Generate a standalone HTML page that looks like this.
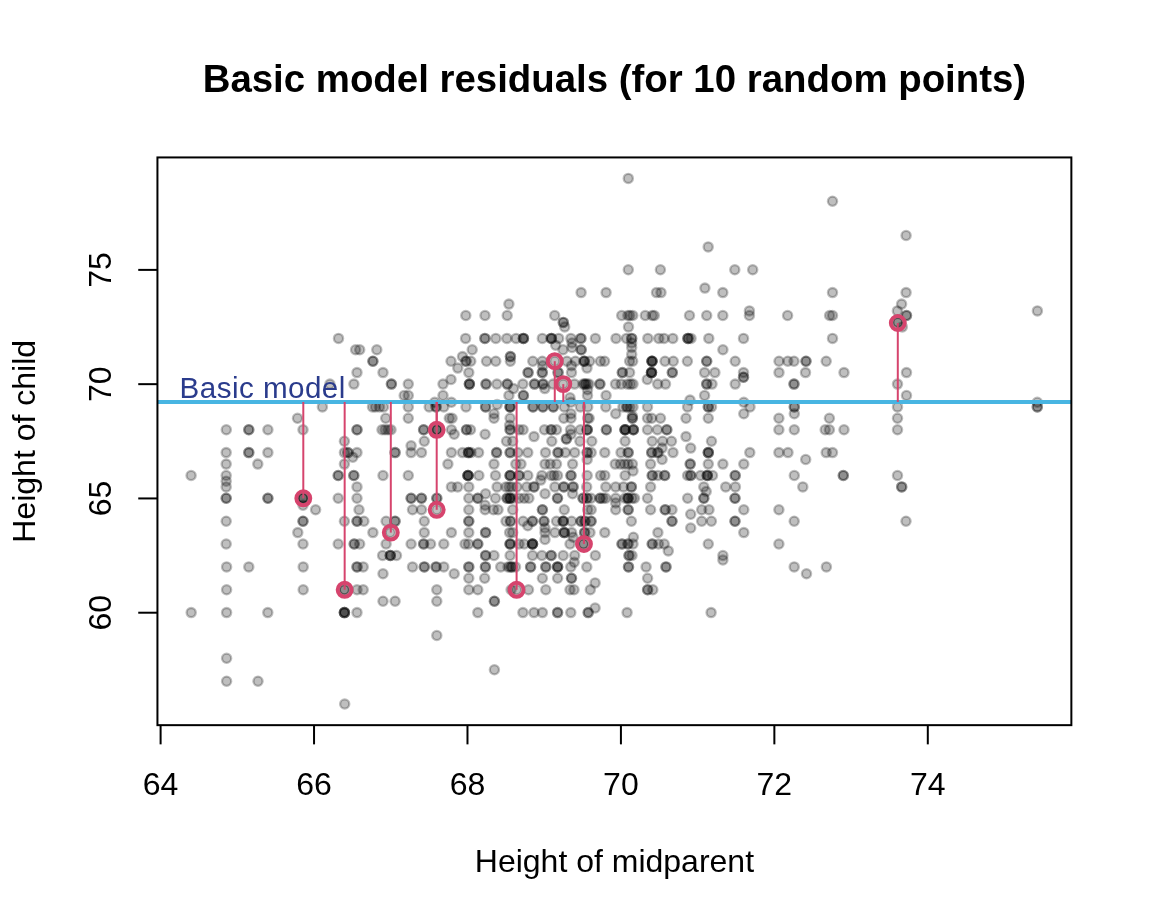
<!DOCTYPE html>
<html><head><meta charset="utf-8"><style>
html,body{margin:0;padding:0;background:#fff;}
svg{display:block;}
text{font-family:"Liberation Sans",sans-serif;}
svg{will-change:transform;}
</style></head><body>
<svg width="1152" height="921" viewBox="0 0 1152 921">
<rect width="1152" height="921" fill="#fff"/>
<text x="614.4" y="92" font-size="38.4" font-weight="bold" text-anchor="middle">Basic model residuals (for 10 random points)</text>
<g fill="rgba(0,0,0,0.25)" stroke="rgba(0,0,0,0.25)" stroke-width="2.3"><circle cx="508.9" cy="304.1" r="4.6"/><circle cx="465.8" cy="315.5" r="4.6"/><circle cx="485.0" cy="315.5" r="4.6"/><circle cx="507.2" cy="315.5" r="4.6"/><circle cx="628.3" cy="178.4" r="4.6"/><circle cx="628.3" cy="269.8" r="4.6"/><circle cx="660.4" cy="269.8" r="4.6"/><circle cx="581.1" cy="292.6" r="4.6"/><circle cx="606.1" cy="292.6" r="4.6"/><circle cx="656.5" cy="292.6" r="4.6"/><circle cx="661.0" cy="292.6" r="4.6"/><circle cx="554.7" cy="315.5" r="4.6"/><circle cx="621.7" cy="315.5" r="4.6"/><circle cx="627.9" cy="315.5" r="4.6"/><circle cx="630.0" cy="315.5" r="4.6"/><circle cx="632.8" cy="315.5" r="4.6"/><circle cx="645.3" cy="315.5" r="4.6"/><circle cx="652.2" cy="315.5" r="4.6"/><circle cx="654.3" cy="315.5" r="4.6"/><circle cx="689.5" cy="315.5" r="4.6"/><circle cx="563.3" cy="322.4" r="4.6"/><circle cx="563.3" cy="322.4" r="4.6"/><circle cx="832.5" cy="201.2" r="4.6"/><circle cx="906.1" cy="235.5" r="4.6"/><circle cx="708.2" cy="246.9" r="4.6"/><circle cx="734.8" cy="269.8" r="4.6"/><circle cx="752.7" cy="269.8" r="4.6"/><circle cx="704.9" cy="288.1" r="4.6"/><circle cx="722.8" cy="292.6" r="4.6"/><circle cx="832.5" cy="292.6" r="4.6"/><circle cx="906.1" cy="292.6" r="4.6"/><circle cx="901.6" cy="304.1" r="4.6"/><circle cx="1037.4" cy="310.9" r="4.6"/><circle cx="706.7" cy="315.5" r="4.6"/><circle cx="722.8" cy="315.5" r="4.6"/><circle cx="749.4" cy="310.9" r="4.6"/><circle cx="749.4" cy="315.5" r="4.6"/><circle cx="787.6" cy="315.5" r="4.6"/><circle cx="829.6" cy="315.5" r="4.6"/><circle cx="832.5" cy="315.5" r="4.6"/><circle cx="897.4" cy="310.9" r="4.6"/><circle cx="906.5" cy="315.5" r="4.6"/><circle cx="906.5" cy="315.5" r="4.6"/><circle cx="897.8" cy="322.4" r="4.6"/><circle cx="897.8" cy="322.4" r="4.6"/><circle cx="322.4" cy="406.9" r="4.6"/><circle cx="297.5" cy="418.3" r="4.6"/><circle cx="226.3" cy="429.8" r="4.6"/><circle cx="248.8" cy="429.8" r="4.6"/><circle cx="248.8" cy="429.8" r="4.6"/><circle cx="267.9" cy="429.8" r="4.6"/><circle cx="303.0" cy="429.8" r="4.6"/><circle cx="338.5" cy="338.4" r="4.6"/><circle cx="355.6" cy="349.8" r="4.6"/><circle cx="359.7" cy="349.8" r="4.6"/><circle cx="376.8" cy="349.8" r="4.6"/><circle cx="372.9" cy="361.2" r="4.6"/><circle cx="372.9" cy="361.2" r="4.6"/><circle cx="451.0" cy="361.2" r="4.6"/><circle cx="462.5" cy="356.6" r="4.6"/><circle cx="466.0" cy="361.2" r="4.6"/><circle cx="466.0" cy="361.2" r="4.6"/><circle cx="470.8" cy="361.2" r="4.6"/><circle cx="357.0" cy="372.6" r="4.6"/><circle cx="383.0" cy="372.6" r="4.6"/><circle cx="457.8" cy="368.1" r="4.6"/><circle cx="468.8" cy="372.6" r="4.6"/><circle cx="329.9" cy="384.1" r="4.6"/><circle cx="353.9" cy="384.1" r="4.6"/><circle cx="391.4" cy="384.1" r="4.6"/><circle cx="391.4" cy="384.1" r="4.6"/><circle cx="408.3" cy="384.1" r="4.6"/><circle cx="443.0" cy="384.1" r="4.6"/><circle cx="451.0" cy="379.5" r="4.6"/><circle cx="469.4" cy="384.1" r="4.6"/><circle cx="469.4" cy="384.1" r="4.6"/><circle cx="469.4" cy="384.1" r="4.6"/><circle cx="404.2" cy="395.5" r="4.6"/><circle cx="408.3" cy="395.5" r="4.6"/><circle cx="443.0" cy="395.5" r="4.6"/><circle cx="434.7" cy="402.3" r="4.6"/><circle cx="451.4" cy="402.3" r="4.6"/><circle cx="372.5" cy="406.9" r="4.6"/><circle cx="375.5" cy="406.9" r="4.6"/><circle cx="379.5" cy="406.9" r="4.6"/><circle cx="383.5" cy="406.9" r="4.6"/><circle cx="408.3" cy="406.9" r="4.6"/><circle cx="429.2" cy="406.9" r="4.6"/><circle cx="436.1" cy="406.9" r="4.6"/><circle cx="436.1" cy="406.9" r="4.6"/><circle cx="443.8" cy="406.9" r="4.6"/><circle cx="466.0" cy="406.9" r="4.6"/><circle cx="385.7" cy="418.3" r="4.6"/><circle cx="408.3" cy="418.3" r="4.6"/><circle cx="449.3" cy="418.3" r="4.6"/><circle cx="452.1" cy="418.3" r="4.6"/><circle cx="357.0" cy="429.8" r="4.6"/><circle cx="357.0" cy="429.8" r="4.6"/><circle cx="382.0" cy="429.8" r="4.6"/><circle cx="385.0" cy="429.8" r="4.6"/><circle cx="388.0" cy="429.8" r="4.6"/><circle cx="391.0" cy="429.8" r="4.6"/><circle cx="423.6" cy="429.8" r="4.6"/><circle cx="423.6" cy="429.8" r="4.6"/><circle cx="436.8" cy="429.8" r="4.6"/><circle cx="436.8" cy="429.8" r="4.6"/><circle cx="436.8" cy="429.8" r="4.6"/><circle cx="451.4" cy="429.8" r="4.6"/><circle cx="465.6" cy="338.4" r="4.6"/><circle cx="472.2" cy="349.8" r="4.6"/><circle cx="466.5" cy="429.8" r="4.6"/><circle cx="466.5" cy="429.8" r="4.6"/><circle cx="470.5" cy="429.8" r="4.6"/><circle cx="564.7" cy="326.9" r="4.6"/><circle cx="484.9" cy="338.4" r="4.6"/><circle cx="484.9" cy="338.4" r="4.6"/><circle cx="495.8" cy="338.4" r="4.6"/><circle cx="506.8" cy="338.4" r="4.6"/><circle cx="516.1" cy="338.4" r="4.6"/><circle cx="523.4" cy="338.4" r="4.6"/><circle cx="523.4" cy="338.4" r="4.6"/><circle cx="523.4" cy="338.4" r="4.6"/><circle cx="542.3" cy="338.4" r="4.6"/><circle cx="551.4" cy="338.4" r="4.6"/><circle cx="551.4" cy="338.4" r="4.6"/><circle cx="551.4" cy="338.4" r="4.6"/><circle cx="558.7" cy="338.4" r="4.6"/><circle cx="570.9" cy="338.4" r="4.6"/><circle cx="580.9" cy="338.4" r="4.6"/><circle cx="580.9" cy="338.4" r="4.6"/><circle cx="555.7" cy="345.2" r="4.6"/><circle cx="563.0" cy="349.8" r="4.6"/><circle cx="572.0" cy="342.9" r="4.6"/><circle cx="572.0" cy="347.5" r="4.6"/><circle cx="581.2" cy="349.8" r="4.6"/><circle cx="581.2" cy="349.8" r="4.6"/><circle cx="510.4" cy="356.6" r="4.6"/><circle cx="510.4" cy="356.6" r="4.6"/><circle cx="486.5" cy="361.2" r="4.6"/><circle cx="495.8" cy="361.2" r="4.6"/><circle cx="510.4" cy="361.2" r="4.6"/><circle cx="532.8" cy="361.2" r="4.6"/><circle cx="542.3" cy="361.2" r="4.6"/><circle cx="554.8" cy="361.2" r="4.6"/><circle cx="566.9" cy="361.2" r="4.6"/><circle cx="575.4" cy="361.2" r="4.6"/><circle cx="584.2" cy="361.2" r="4.6"/><circle cx="584.2" cy="361.2" r="4.6"/><circle cx="584.2" cy="361.2" r="4.6"/><circle cx="589.7" cy="361.2" r="4.6"/><circle cx="571.5" cy="365.8" r="4.6"/><circle cx="587.0" cy="368.1" r="4.6"/><circle cx="542.7" cy="365.8" r="4.6"/><circle cx="528.1" cy="372.6" r="4.6"/><circle cx="528.1" cy="372.6" r="4.6"/><circle cx="542.3" cy="372.6" r="4.6"/><circle cx="542.3" cy="372.6" r="4.6"/><circle cx="558.1" cy="372.6" r="4.6"/><circle cx="558.1" cy="372.6" r="4.6"/><circle cx="571.5" cy="372.6" r="4.6"/><circle cx="486.0" cy="384.1" r="4.6"/><circle cx="486.0" cy="384.1" r="4.6"/><circle cx="496.9" cy="384.1" r="4.6"/><circle cx="507.3" cy="384.1" r="4.6"/><circle cx="507.3" cy="384.1" r="4.6"/><circle cx="522.9" cy="384.1" r="4.6"/><circle cx="534.5" cy="384.1" r="4.6"/><circle cx="534.5" cy="384.1" r="4.6"/><circle cx="543.0" cy="384.1" r="4.6"/><circle cx="543.0" cy="384.1" r="4.6"/><circle cx="553.1" cy="384.1" r="4.6"/><circle cx="563.2" cy="384.1" r="4.6"/><circle cx="574.5" cy="384.1" r="4.6"/><circle cx="513.5" cy="388.6" r="4.6"/><circle cx="544.8" cy="388.6" r="4.6"/><circle cx="508.9" cy="395.5" r="4.6"/><circle cx="523.4" cy="395.5" r="4.6"/><circle cx="523.4" cy="395.5" r="4.6"/><circle cx="583.0" cy="384.1" r="4.6"/><circle cx="585.0" cy="384.1" r="4.6"/><circle cx="585.0" cy="384.1" r="4.6"/><circle cx="587.0" cy="384.1" r="4.6"/><circle cx="589.0" cy="384.1" r="4.6"/><circle cx="587.5" cy="389.8" r="4.6"/><circle cx="587.5" cy="395.5" r="4.6"/><circle cx="628.5" cy="326.9" r="4.6"/><circle cx="595.4" cy="338.4" r="4.6"/><circle cx="616.0" cy="338.4" r="4.6"/><circle cx="626.5" cy="338.4" r="4.6"/><circle cx="631.7" cy="338.4" r="4.6"/><circle cx="631.7" cy="338.4" r="4.6"/><circle cx="647.8" cy="338.4" r="4.6"/><circle cx="658.8" cy="338.4" r="4.6"/><circle cx="664.0" cy="338.4" r="4.6"/><circle cx="672.8" cy="338.4" r="4.6"/><circle cx="708.8" cy="338.4" r="4.6"/><circle cx="631.7" cy="342.9" r="4.6"/><circle cx="631.7" cy="347.5" r="4.6"/><circle cx="631.7" cy="354.4" r="4.6"/><circle cx="629.6" cy="361.2" r="4.6"/><circle cx="632.7" cy="361.2" r="4.6"/><circle cx="600.4" cy="361.2" r="4.6"/><circle cx="604.6" cy="361.2" r="4.6"/><circle cx="652.0" cy="361.2" r="4.6"/><circle cx="652.0" cy="361.2" r="4.6"/><circle cx="652.0" cy="361.2" r="4.6"/><circle cx="652.0" cy="361.2" r="4.6"/><circle cx="665.0" cy="361.2" r="4.6"/><circle cx="673.3" cy="361.2" r="4.6"/><circle cx="687.4" cy="361.2" r="4.6"/><circle cx="706.7" cy="361.2" r="4.6"/><circle cx="706.7" cy="361.2" r="4.6"/><circle cx="622.3" cy="372.6" r="4.6"/><circle cx="622.3" cy="372.6" r="4.6"/><circle cx="629.6" cy="372.6" r="4.6"/><circle cx="651.5" cy="372.6" r="4.6"/><circle cx="651.5" cy="372.6" r="4.6"/><circle cx="651.5" cy="372.6" r="4.6"/><circle cx="651.5" cy="372.6" r="4.6"/><circle cx="672.3" cy="372.6" r="4.6"/><circle cx="672.3" cy="372.6" r="4.6"/><circle cx="704.6" cy="372.6" r="4.6"/><circle cx="647.3" cy="379.5" r="4.6"/><circle cx="599.9" cy="384.1" r="4.6"/><circle cx="599.9" cy="384.1" r="4.6"/><circle cx="615.5" cy="384.1" r="4.6"/><circle cx="621.2" cy="384.1" r="4.6"/><circle cx="657.7" cy="384.1" r="4.6"/><circle cx="665.5" cy="384.1" r="4.6"/><circle cx="706.7" cy="384.1" r="4.6"/><circle cx="706.7" cy="384.1" r="4.6"/><circle cx="606.1" cy="395.5" r="4.6"/><circle cx="704.6" cy="395.5" r="4.6"/><circle cx="690.0" cy="400.1" r="4.6"/><circle cx="688.0" cy="338.4" r="4.6"/><circle cx="688.0" cy="338.4" r="4.6"/><circle cx="688.0" cy="338.4" r="4.6"/><circle cx="691.0" cy="338.4" r="4.6"/><circle cx="627.5" cy="384.1" r="4.6"/><circle cx="630.5" cy="384.1" r="4.6"/><circle cx="633.0" cy="384.1" r="4.6"/><circle cx="743.5" cy="338.4" r="4.6"/><circle cx="722.9" cy="349.8" r="4.6"/><circle cx="735.2" cy="361.2" r="4.6"/><circle cx="779.0" cy="361.2" r="4.6"/><circle cx="787.8" cy="361.2" r="4.6"/><circle cx="794.0" cy="361.2" r="4.6"/><circle cx="806.0" cy="361.2" r="4.6"/><circle cx="806.0" cy="361.2" r="4.6"/><circle cx="714.9" cy="372.6" r="4.6"/><circle cx="743.5" cy="372.6" r="4.6"/><circle cx="743.5" cy="377.2" r="4.6"/><circle cx="743.5" cy="377.2" r="4.6"/><circle cx="779.0" cy="372.6" r="4.6"/><circle cx="805.5" cy="372.6" r="4.6"/><circle cx="712.0" cy="384.1" r="4.6"/><circle cx="735.2" cy="384.1" r="4.6"/><circle cx="794.0" cy="384.1" r="4.6"/><circle cx="794.0" cy="384.1" r="4.6"/><circle cx="902.3" cy="326.9" r="4.6"/><circle cx="832.5" cy="338.4" r="4.6"/><circle cx="826.2" cy="361.2" r="4.6"/><circle cx="844.0" cy="372.6" r="4.6"/><circle cx="906.5" cy="372.6" r="4.6"/><circle cx="897.5" cy="384.1" r="4.6"/><circle cx="906.5" cy="395.5" r="4.6"/><circle cx="1037.3" cy="402.3" r="4.6"/><circle cx="1037.3" cy="406.9" r="4.6"/><circle cx="1037.3" cy="406.9" r="4.6"/><circle cx="897.5" cy="406.9" r="4.6"/><circle cx="829.4" cy="418.3" r="4.6"/><circle cx="897.5" cy="418.3" r="4.6"/><circle cx="825.2" cy="429.8" r="4.6"/><circle cx="829.4" cy="429.8" r="4.6"/><circle cx="844.0" cy="429.8" r="4.6"/><circle cx="897.5" cy="429.8" r="4.6"/><circle cx="826.2" cy="452.6" r="4.6"/><circle cx="832.5" cy="452.6" r="4.6"/><circle cx="843.3" cy="475.5" r="4.6"/><circle cx="843.3" cy="475.5" r="4.6"/><circle cx="897.5" cy="475.5" r="4.6"/><circle cx="901.7" cy="486.9" r="4.6"/><circle cx="901.7" cy="486.9" r="4.6"/><circle cx="570.0" cy="397.8" r="4.6"/><circle cx="485.6" cy="406.9" r="4.6"/><circle cx="485.6" cy="406.9" r="4.6"/><circle cx="497.1" cy="404.6" r="4.6"/><circle cx="510.1" cy="406.9" r="4.6"/><circle cx="510.1" cy="406.9" r="4.6"/><circle cx="510.1" cy="406.9" r="4.6"/><circle cx="533.0" cy="406.9" r="4.6"/><circle cx="533.0" cy="406.9" r="4.6"/><circle cx="542.9" cy="406.9" r="4.6"/><circle cx="542.9" cy="406.9" r="4.6"/><circle cx="553.3" cy="406.9" r="4.6"/><circle cx="553.3" cy="406.9" r="4.6"/><circle cx="564.3" cy="406.9" r="4.6"/><circle cx="571.0" cy="402.3" r="4.6"/><circle cx="580.4" cy="406.9" r="4.6"/><circle cx="587.7" cy="406.9" r="4.6"/><circle cx="494.0" cy="413.8" r="4.6"/><circle cx="494.0" cy="418.3" r="4.6"/><circle cx="510.1" cy="418.3" r="4.6"/><circle cx="563.8" cy="418.3" r="4.6"/><circle cx="571.0" cy="413.8" r="4.6"/><circle cx="571.0" cy="418.3" r="4.6"/><circle cx="587.7" cy="418.3" r="4.6"/><circle cx="485.1" cy="434.3" r="4.6"/><circle cx="509.6" cy="425.2" r="4.6"/><circle cx="510.1" cy="429.8" r="4.6"/><circle cx="510.1" cy="429.8" r="4.6"/><circle cx="519.0" cy="429.8" r="4.6"/><circle cx="523.1" cy="429.8" r="4.6"/><circle cx="544.5" cy="429.8" r="4.6"/><circle cx="551.2" cy="429.8" r="4.6"/><circle cx="551.2" cy="429.8" r="4.6"/><circle cx="556.5" cy="429.8" r="4.6"/><circle cx="570.5" cy="429.8" r="4.6"/><circle cx="571.0" cy="434.3" r="4.6"/><circle cx="580.4" cy="429.8" r="4.6"/><circle cx="587.2" cy="429.8" r="4.6"/><circle cx="587.2" cy="429.8" r="4.6"/><circle cx="587.2" cy="429.8" r="4.6"/><circle cx="534.0" cy="436.6" r="4.6"/><circle cx="506.5" cy="441.2" r="4.6"/><circle cx="512.7" cy="441.2" r="4.6"/><circle cx="551.8" cy="441.2" r="4.6"/><circle cx="566.4" cy="438.9" r="4.6"/><circle cx="566.4" cy="438.9" r="4.6"/><circle cx="579.9" cy="441.2" r="4.6"/><circle cx="478.6" cy="452.6" r="4.6"/><circle cx="496.6" cy="452.6" r="4.6"/><circle cx="496.6" cy="452.6" r="4.6"/><circle cx="510.1" cy="452.6" r="4.6"/><circle cx="510.1" cy="452.6" r="4.6"/><circle cx="517.9" cy="452.6" r="4.6"/><circle cx="527.8" cy="452.6" r="4.6"/><circle cx="545.5" cy="452.6" r="4.6"/><circle cx="558.0" cy="452.6" r="4.6"/><circle cx="558.0" cy="452.6" r="4.6"/><circle cx="565.3" cy="452.6" r="4.6"/><circle cx="574.7" cy="452.6" r="4.6"/><circle cx="587.2" cy="452.6" r="4.6"/><circle cx="587.2" cy="452.6" r="4.6"/><circle cx="494.0" cy="464.1" r="4.6"/><circle cx="515.8" cy="464.1" r="4.6"/><circle cx="521.0" cy="464.1" r="4.6"/><circle cx="545.0" cy="464.1" r="4.6"/><circle cx="550.2" cy="464.1" r="4.6"/><circle cx="556.5" cy="464.1" r="4.6"/><circle cx="572.6" cy="464.1" r="4.6"/><circle cx="587.2" cy="459.5" r="4.6"/><circle cx="478.9" cy="475.5" r="4.6"/><circle cx="495.5" cy="475.5" r="4.6"/><circle cx="510.1" cy="475.5" r="4.6"/><circle cx="510.1" cy="475.5" r="4.6"/><circle cx="510.1" cy="475.5" r="4.6"/><circle cx="519.0" cy="475.5" r="4.6"/><circle cx="519.0" cy="475.5" r="4.6"/><circle cx="527.8" cy="475.5" r="4.6"/><circle cx="541.9" cy="475.5" r="4.6"/><circle cx="551.2" cy="475.5" r="4.6"/><circle cx="557.5" cy="475.5" r="4.6"/><circle cx="571.0" cy="475.5" r="4.6"/><circle cx="571.0" cy="475.5" r="4.6"/><circle cx="587.2" cy="475.5" r="4.6"/><circle cx="554.0" cy="475.5" r="4.6"/><circle cx="687.6" cy="406.9" r="4.6"/><circle cx="605.8" cy="406.9" r="4.6"/><circle cx="647.5" cy="406.9" r="4.6"/><circle cx="615.7" cy="413.8" r="4.6"/><circle cx="589.2" cy="418.3" r="4.6"/><circle cx="632.4" cy="416.1" r="4.6"/><circle cx="632.4" cy="418.3" r="4.6"/><circle cx="632.4" cy="418.3" r="4.6"/><circle cx="647.5" cy="418.3" r="4.6"/><circle cx="651.7" cy="418.3" r="4.6"/><circle cx="660.5" cy="418.3" r="4.6"/><circle cx="686.0" cy="418.3" r="4.6"/><circle cx="606.4" cy="429.8" r="4.6"/><circle cx="606.4" cy="429.8" r="4.6"/><circle cx="625.1" cy="429.8" r="4.6"/><circle cx="625.1" cy="429.8" r="4.6"/><circle cx="625.1" cy="429.8" r="4.6"/><circle cx="625.1" cy="429.8" r="4.6"/><circle cx="633.4" cy="429.8" r="4.6"/><circle cx="633.4" cy="429.8" r="4.6"/><circle cx="633.4" cy="429.8" r="4.6"/><circle cx="647.5" cy="429.8" r="4.6"/><circle cx="657.4" cy="429.8" r="4.6"/><circle cx="666.8" cy="429.8" r="4.6"/><circle cx="666.8" cy="429.8" r="4.6"/><circle cx="686.0" cy="436.6" r="4.6"/><circle cx="591.8" cy="441.2" r="4.6"/><circle cx="625.1" cy="441.2" r="4.6"/><circle cx="652.2" cy="441.2" r="4.6"/><circle cx="662.6" cy="441.2" r="4.6"/><circle cx="671.5" cy="441.2" r="4.6"/><circle cx="662.1" cy="448.1" r="4.6"/><circle cx="690.7" cy="448.1" r="4.6"/><circle cx="591.2" cy="452.6" r="4.6"/><circle cx="604.8" cy="452.6" r="4.6"/><circle cx="621.0" cy="452.6" r="4.6"/><circle cx="628.2" cy="452.6" r="4.6"/><circle cx="628.2" cy="452.6" r="4.6"/><circle cx="651.7" cy="452.6" r="4.6"/><circle cx="651.7" cy="452.6" r="4.6"/><circle cx="657.9" cy="452.6" r="4.6"/><circle cx="657.9" cy="452.6" r="4.6"/><circle cx="673.0" cy="452.6" r="4.6"/><circle cx="615.2" cy="464.1" r="4.6"/><circle cx="632.4" cy="464.1" r="4.6"/><circle cx="633.0" cy="470.9" r="4.6"/><circle cx="650.6" cy="464.1" r="4.6"/><circle cx="662.1" cy="459.5" r="4.6"/><circle cx="690.2" cy="464.1" r="4.6"/><circle cx="690.2" cy="464.1" r="4.6"/><circle cx="600.6" cy="475.5" r="4.6"/><circle cx="604.8" cy="475.5" r="4.6"/><circle cx="625.1" cy="475.5" r="4.6"/><circle cx="652.2" cy="475.5" r="4.6"/><circle cx="652.2" cy="475.5" r="4.6"/><circle cx="657.9" cy="475.5" r="4.6"/><circle cx="664.7" cy="475.5" r="4.6"/><circle cx="664.7" cy="475.5" r="4.6"/><circle cx="687.6" cy="475.5" r="4.6"/><circle cx="690.7" cy="475.5" r="4.6"/><circle cx="690.7" cy="475.5" r="4.6"/><circle cx="700.6" cy="475.5" r="4.6"/><circle cx="623.0" cy="406.9" r="4.6"/><circle cx="627.0" cy="406.9" r="4.6"/><circle cx="627.0" cy="406.9" r="4.6"/><circle cx="630.0" cy="406.9" r="4.6"/><circle cx="633.0" cy="406.9" r="4.6"/><circle cx="620.5" cy="464.1" r="4.6"/><circle cx="624.6" cy="464.1" r="4.6"/><circle cx="628.0" cy="464.1" r="4.6"/><circle cx="743.8" cy="402.3" r="4.6"/><circle cx="708.3" cy="406.9" r="4.6"/><circle cx="708.3" cy="406.9" r="4.6"/><circle cx="711.5" cy="406.9" r="4.6"/><circle cx="750.0" cy="406.9" r="4.6"/><circle cx="743.8" cy="413.8" r="4.6"/><circle cx="794.3" cy="406.9" r="4.6"/><circle cx="794.3" cy="406.9" r="4.6"/><circle cx="794.3" cy="413.8" r="4.6"/><circle cx="708.3" cy="418.3" r="4.6"/><circle cx="778.9" cy="418.3" r="4.6"/><circle cx="778.9" cy="429.8" r="4.6"/><circle cx="794.3" cy="429.8" r="4.6"/><circle cx="711.5" cy="441.2" r="4.6"/><circle cx="708.3" cy="452.6" r="4.6"/><circle cx="708.3" cy="452.6" r="4.6"/><circle cx="708.3" cy="452.6" r="4.6"/><circle cx="749.8" cy="452.6" r="4.6"/><circle cx="778.9" cy="452.6" r="4.6"/><circle cx="788.0" cy="452.6" r="4.6"/><circle cx="805.7" cy="459.5" r="4.6"/><circle cx="708.3" cy="464.1" r="4.6"/><circle cx="722.9" cy="464.1" r="4.6"/><circle cx="743.8" cy="464.1" r="4.6"/><circle cx="707.3" cy="475.5" r="4.6"/><circle cx="707.3" cy="475.5" r="4.6"/><circle cx="707.3" cy="475.5" r="4.6"/><circle cx="712.5" cy="475.5" r="4.6"/><circle cx="735.2" cy="475.5" r="4.6"/><circle cx="735.2" cy="475.5" r="4.6"/><circle cx="794.3" cy="475.5" r="4.6"/><circle cx="344.4" cy="441.2" r="4.6"/><circle cx="424.3" cy="441.2" r="4.6"/><circle cx="454.2" cy="434.3" r="4.6"/><circle cx="344.4" cy="452.6" r="4.6"/><circle cx="347.9" cy="452.6" r="4.6"/><circle cx="347.9" cy="452.6" r="4.6"/><circle cx="357.0" cy="452.6" r="4.6"/><circle cx="395.1" cy="452.6" r="4.6"/><circle cx="395.1" cy="452.6" r="4.6"/><circle cx="411.1" cy="445.8" r="4.6"/><circle cx="411.1" cy="452.6" r="4.6"/><circle cx="421.5" cy="452.6" r="4.6"/><circle cx="451.4" cy="452.6" r="4.6"/><circle cx="462.5" cy="452.6" r="4.6"/><circle cx="352.8" cy="457.2" r="4.6"/><circle cx="344.4" cy="464.1" r="4.6"/><circle cx="447.9" cy="464.1" r="4.6"/><circle cx="338.2" cy="475.5" r="4.6"/><circle cx="338.2" cy="475.5" r="4.6"/><circle cx="353.8" cy="475.5" r="4.6"/><circle cx="353.8" cy="475.5" r="4.6"/><circle cx="383.0" cy="475.5" r="4.6"/><circle cx="408.3" cy="475.5" r="4.6"/><circle cx="357.0" cy="486.9" r="4.6"/><circle cx="451.4" cy="486.9" r="4.6"/><circle cx="457.6" cy="486.9" r="4.6"/><circle cx="468.8" cy="486.9" r="4.6"/><circle cx="338.2" cy="498.3" r="4.6"/><circle cx="357.0" cy="498.3" r="4.6"/><circle cx="411.1" cy="498.3" r="4.6"/><circle cx="411.1" cy="498.3" r="4.6"/><circle cx="421.5" cy="498.3" r="4.6"/><circle cx="421.5" cy="498.3" r="4.6"/><circle cx="436.8" cy="498.3" r="4.6"/><circle cx="436.8" cy="498.3" r="4.6"/><circle cx="468.8" cy="498.3" r="4.6"/><circle cx="477.8" cy="498.3" r="4.6"/><circle cx="477.8" cy="498.3" r="4.6"/><circle cx="359.0" cy="509.8" r="4.6"/><circle cx="412.5" cy="509.8" r="4.6"/><circle cx="421.5" cy="509.8" r="4.6"/><circle cx="436.8" cy="509.8" r="4.6"/><circle cx="468.8" cy="509.8" r="4.6"/><circle cx="344.4" cy="521.2" r="4.6"/><circle cx="357.0" cy="521.2" r="4.6"/><circle cx="357.0" cy="521.2" r="4.6"/><circle cx="363.9" cy="521.2" r="4.6"/><circle cx="386.1" cy="521.2" r="4.6"/><circle cx="395.1" cy="521.2" r="4.6"/><circle cx="395.1" cy="521.2" r="4.6"/><circle cx="424.3" cy="521.2" r="4.6"/><circle cx="468.8" cy="521.2" r="4.6"/><circle cx="468.8" cy="521.2" r="4.6"/><circle cx="372.9" cy="532.6" r="4.6"/><circle cx="390.3" cy="532.6" r="4.6"/><circle cx="424.3" cy="532.6" r="4.6"/><circle cx="451.4" cy="532.6" r="4.6"/><circle cx="468.8" cy="532.6" r="4.6"/><circle cx="338.2" cy="544.0" r="4.6"/><circle cx="354.2" cy="544.0" r="4.6"/><circle cx="354.2" cy="544.0" r="4.6"/><circle cx="359.7" cy="544.0" r="4.6"/><circle cx="386.1" cy="544.0" r="4.6"/><circle cx="411.1" cy="544.0" r="4.6"/><circle cx="423.6" cy="544.0" r="4.6"/><circle cx="423.6" cy="544.0" r="4.6"/><circle cx="430.6" cy="544.0" r="4.6"/><circle cx="443.8" cy="544.0" r="4.6"/><circle cx="477.8" cy="544.0" r="4.6"/><circle cx="477.8" cy="544.0" r="4.6"/><circle cx="465.0" cy="544.0" r="4.6"/><circle cx="468.5" cy="544.0" r="4.6"/><circle cx="468.0" cy="475.5" r="4.6"/><circle cx="468.0" cy="475.5" r="4.6"/><circle cx="468.0" cy="475.5" r="4.6"/><circle cx="468.0" cy="475.5" r="4.6"/><circle cx="468.5" cy="452.6" r="4.6"/><circle cx="468.5" cy="452.6" r="4.6"/><circle cx="468.5" cy="452.6" r="4.6"/><circle cx="471.0" cy="452.6" r="4.6"/><circle cx="226.2" cy="452.6" r="4.6"/><circle cx="248.8" cy="452.6" r="4.6"/><circle cx="248.8" cy="452.6" r="4.6"/><circle cx="267.9" cy="452.6" r="4.6"/><circle cx="226.2" cy="464.1" r="4.6"/><circle cx="257.8" cy="464.1" r="4.6"/><circle cx="191.1" cy="475.5" r="4.6"/><circle cx="226.2" cy="475.5" r="4.6"/><circle cx="226.2" cy="486.9" r="4.6"/><circle cx="226.2" cy="498.3" r="4.6"/><circle cx="226.2" cy="498.3" r="4.6"/><circle cx="267.9" cy="498.3" r="4.6"/><circle cx="267.9" cy="498.3" r="4.6"/><circle cx="303.0" cy="498.3" r="4.6"/><circle cx="303.0" cy="498.3" r="4.6"/><circle cx="303.0" cy="498.3" r="4.6"/><circle cx="303.0" cy="505.2" r="4.6"/><circle cx="315.6" cy="509.8" r="4.6"/><circle cx="226.2" cy="521.2" r="4.6"/><circle cx="303.0" cy="521.2" r="4.6"/><circle cx="303.0" cy="521.2" r="4.6"/><circle cx="297.8" cy="532.6" r="4.6"/><circle cx="226.2" cy="544.0" r="4.6"/><circle cx="303.0" cy="544.0" r="4.6"/><circle cx="226.2" cy="481.2" r="4.6"/><circle cx="497.1" cy="486.9" r="4.6"/><circle cx="511.7" cy="486.9" r="4.6"/><circle cx="516.9" cy="486.9" r="4.6"/><circle cx="526.8" cy="486.9" r="4.6"/><circle cx="534.0" cy="486.9" r="4.6"/><circle cx="534.0" cy="486.9" r="4.6"/><circle cx="540.8" cy="480.1" r="4.6"/><circle cx="554.9" cy="486.9" r="4.6"/><circle cx="563.8" cy="486.9" r="4.6"/><circle cx="563.8" cy="486.9" r="4.6"/><circle cx="573.1" cy="486.9" r="4.6"/><circle cx="573.1" cy="486.9" r="4.6"/><circle cx="586.7" cy="486.9" r="4.6"/><circle cx="485.6" cy="493.8" r="4.6"/><circle cx="545.0" cy="493.8" r="4.6"/><circle cx="572.6" cy="493.8" r="4.6"/><circle cx="495.5" cy="498.3" r="4.6"/><circle cx="519.0" cy="498.3" r="4.6"/><circle cx="524.2" cy="498.3" r="4.6"/><circle cx="528.9" cy="498.3" r="4.6"/><circle cx="557.5" cy="498.3" r="4.6"/><circle cx="557.5" cy="498.3" r="4.6"/><circle cx="485.1" cy="505.2" r="4.6"/><circle cx="485.1" cy="509.8" r="4.6"/><circle cx="512.7" cy="509.8" r="4.6"/><circle cx="542.4" cy="509.8" r="4.6"/><circle cx="542.4" cy="509.8" r="4.6"/><circle cx="564.3" cy="509.8" r="4.6"/><circle cx="587.7" cy="509.8" r="4.6"/><circle cx="523.1" cy="521.2" r="4.6"/><circle cx="532.5" cy="521.2" r="4.6"/><circle cx="532.5" cy="521.2" r="4.6"/><circle cx="544.0" cy="521.2" r="4.6"/><circle cx="544.0" cy="521.2" r="4.6"/><circle cx="556.5" cy="521.2" r="4.6"/><circle cx="563.2" cy="521.2" r="4.6"/><circle cx="563.2" cy="521.2" r="4.6"/><circle cx="563.2" cy="521.2" r="4.6"/><circle cx="571.6" cy="521.2" r="4.6"/><circle cx="527.8" cy="525.8" r="4.6"/><circle cx="485.6" cy="532.6" r="4.6"/><circle cx="485.6" cy="532.6" r="4.6"/><circle cx="509.6" cy="532.6" r="4.6"/><circle cx="512.7" cy="532.6" r="4.6"/><circle cx="545.0" cy="528.0" r="4.6"/><circle cx="545.0" cy="532.6" r="4.6"/><circle cx="545.0" cy="539.5" r="4.6"/><circle cx="554.9" cy="532.6" r="4.6"/><circle cx="564.3" cy="532.6" r="4.6"/><circle cx="564.3" cy="532.6" r="4.6"/><circle cx="564.3" cy="532.6" r="4.6"/><circle cx="571.6" cy="532.6" r="4.6"/><circle cx="584.6" cy="532.6" r="4.6"/><circle cx="584.6" cy="532.6" r="4.6"/><circle cx="510.1" cy="544.0" r="4.6"/><circle cx="510.1" cy="544.0" r="4.6"/><circle cx="510.1" cy="544.0" r="4.6"/><circle cx="519.0" cy="544.0" r="4.6"/><circle cx="524.2" cy="544.0" r="4.6"/><circle cx="532.5" cy="544.0" r="4.6"/><circle cx="532.5" cy="544.0" r="4.6"/><circle cx="532.5" cy="544.0" r="4.6"/><circle cx="532.5" cy="544.0" r="4.6"/><circle cx="570.0" cy="544.0" r="4.6"/><circle cx="573.1" cy="537.2" r="4.6"/><circle cx="583.5" cy="544.0" r="4.6"/><circle cx="583.5" cy="544.0" r="4.6"/><circle cx="485.6" cy="555.5" r="4.6"/><circle cx="485.6" cy="555.5" r="4.6"/><circle cx="494.0" cy="555.5" r="4.6"/><circle cx="510.1" cy="555.5" r="4.6"/><circle cx="532.5" cy="555.5" r="4.6"/><circle cx="541.9" cy="555.5" r="4.6"/><circle cx="551.2" cy="555.5" r="4.6"/><circle cx="551.2" cy="555.5" r="4.6"/><circle cx="563.2" cy="555.5" r="4.6"/><circle cx="574.7" cy="555.5" r="4.6"/><circle cx="574.2" cy="562.3" r="4.6"/><circle cx="583.0" cy="498.3" r="4.6"/><circle cx="583.0" cy="498.3" r="4.6"/><circle cx="587.0" cy="498.3" r="4.6"/><circle cx="587.0" cy="498.3" r="4.6"/><circle cx="591.0" cy="498.3" r="4.6"/><circle cx="581.0" cy="521.2" r="4.6"/><circle cx="581.0" cy="521.2" r="4.6"/><circle cx="585.0" cy="521.2" r="4.6"/><circle cx="585.0" cy="521.2" r="4.6"/><circle cx="591.0" cy="521.2" r="4.6"/><circle cx="590.0" cy="532.6" r="4.6"/><circle cx="507.0" cy="498.3" r="4.6"/><circle cx="507.0" cy="498.3" r="4.6"/><circle cx="510.0" cy="498.3" r="4.6"/><circle cx="510.0" cy="498.3" r="4.6"/><circle cx="510.0" cy="498.3" r="4.6"/><circle cx="513.0" cy="498.3" r="4.6"/><circle cx="506.0" cy="486.9" r="4.6"/><circle cx="509.0" cy="486.9" r="4.6"/><circle cx="493.5" cy="509.8" r="4.6"/><circle cx="498.0" cy="509.8" r="4.6"/><circle cx="506.0" cy="521.2" r="4.6"/><circle cx="510.5" cy="521.2" r="4.6"/><circle cx="510.5" cy="521.2" r="4.6"/><circle cx="605.8" cy="486.9" r="4.6"/><circle cx="615.7" cy="486.9" r="4.6"/><circle cx="623.5" cy="486.9" r="4.6"/><circle cx="631.4" cy="486.9" r="4.6"/><circle cx="631.4" cy="486.9" r="4.6"/><circle cx="650.6" cy="486.9" r="4.6"/><circle cx="703.8" cy="486.9" r="4.6"/><circle cx="600.1" cy="498.3" r="4.6"/><circle cx="600.1" cy="498.3" r="4.6"/><circle cx="605.8" cy="498.3" r="4.6"/><circle cx="615.7" cy="498.3" r="4.6"/><circle cx="615.7" cy="502.9" r="4.6"/><circle cx="634.5" cy="498.3" r="4.6"/><circle cx="647.5" cy="498.3" r="4.6"/><circle cx="687.6" cy="498.3" r="4.6"/><circle cx="703.8" cy="498.3" r="4.6"/><circle cx="703.8" cy="498.3" r="4.6"/><circle cx="591.2" cy="509.8" r="4.6"/><circle cx="615.7" cy="509.8" r="4.6"/><circle cx="628.2" cy="509.8" r="4.6"/><circle cx="628.2" cy="509.8" r="4.6"/><circle cx="650.6" cy="509.8" r="4.6"/><circle cx="665.2" cy="509.8" r="4.6"/><circle cx="665.2" cy="509.8" r="4.6"/><circle cx="672.0" cy="509.8" r="4.6"/><circle cx="701.7" cy="509.8" r="4.6"/><circle cx="690.7" cy="514.3" r="4.6"/><circle cx="591.2" cy="521.2" r="4.6"/><circle cx="631.4" cy="521.2" r="4.6"/><circle cx="672.0" cy="521.2" r="4.6"/><circle cx="672.0" cy="521.2" r="4.6"/><circle cx="701.7" cy="521.2" r="4.6"/><circle cx="690.7" cy="528.0" r="4.6"/><circle cx="604.8" cy="532.6" r="4.6"/><circle cx="657.9" cy="532.6" r="4.6"/><circle cx="633.4" cy="537.2" r="4.6"/><circle cx="652.2" cy="544.0" r="4.6"/><circle cx="652.2" cy="544.0" r="4.6"/><circle cx="664.2" cy="544.0" r="4.6"/><circle cx="668.3" cy="550.9" r="4.6"/><circle cx="595.4" cy="555.5" r="4.6"/><circle cx="603.0" cy="498.3" r="4.6"/><circle cx="622.0" cy="544.0" r="4.6"/><circle cx="622.0" cy="544.0" r="4.6"/><circle cx="628.0" cy="544.0" r="4.6"/><circle cx="628.0" cy="544.0" r="4.6"/><circle cx="633.0" cy="544.0" r="4.6"/><circle cx="658.5" cy="544.0" r="4.6"/><circle cx="625.0" cy="498.3" r="4.6"/><circle cx="628.0" cy="498.3" r="4.6"/><circle cx="628.0" cy="498.3" r="4.6"/><circle cx="628.0" cy="498.3" r="4.6"/><circle cx="632.0" cy="498.3" r="4.6"/><circle cx="629.0" cy="555.5" r="4.6"/><circle cx="629.0" cy="555.5" r="4.6"/><circle cx="632.0" cy="555.5" r="4.6"/><circle cx="725.7" cy="486.9" r="4.6"/><circle cx="735.4" cy="486.9" r="4.6"/><circle cx="802.8" cy="486.9" r="4.6"/><circle cx="706.2" cy="491.5" r="4.6"/><circle cx="735.0" cy="498.3" r="4.6"/><circle cx="735.0" cy="498.3" r="4.6"/><circle cx="709.0" cy="509.8" r="4.6"/><circle cx="743.8" cy="509.8" r="4.6"/><circle cx="778.9" cy="509.8" r="4.6"/><circle cx="711.4" cy="521.2" r="4.6"/><circle cx="735.0" cy="521.2" r="4.6"/><circle cx="735.0" cy="521.2" r="4.6"/><circle cx="794.2" cy="521.2" r="4.6"/><circle cx="743.8" cy="532.6" r="4.6"/><circle cx="708.3" cy="544.0" r="4.6"/><circle cx="778.9" cy="544.0" r="4.6"/><circle cx="722.9" cy="555.5" r="4.6"/><circle cx="722.9" cy="560.0" r="4.6"/><circle cx="794.2" cy="566.9" r="4.6"/><circle cx="826.4" cy="566.9" r="4.6"/><circle cx="806.5" cy="573.8" r="4.6"/><circle cx="906.0" cy="521.2" r="4.6"/><circle cx="226.6" cy="566.9" r="4.6"/><circle cx="248.8" cy="566.9" r="4.6"/><circle cx="303.2" cy="566.9" r="4.6"/><circle cx="226.6" cy="589.8" r="4.6"/><circle cx="303.2" cy="589.8" r="4.6"/><circle cx="191.2" cy="612.6" r="4.6"/><circle cx="226.6" cy="612.6" r="4.6"/><circle cx="267.8" cy="612.6" r="4.6"/><circle cx="226.6" cy="658.3" r="4.6"/><circle cx="226.6" cy="681.2" r="4.6"/><circle cx="258.0" cy="681.2" r="4.6"/><circle cx="382.6" cy="555.5" r="4.6"/><circle cx="390.3" cy="555.5" r="4.6"/><circle cx="390.3" cy="555.5" r="4.6"/><circle cx="390.3" cy="555.5" r="4.6"/><circle cx="396.5" cy="555.5" r="4.6"/><circle cx="357.0" cy="566.9" r="4.6"/><circle cx="357.0" cy="566.9" r="4.6"/><circle cx="363.2" cy="566.9" r="4.6"/><circle cx="412.5" cy="566.9" r="4.6"/><circle cx="424.3" cy="566.9" r="4.6"/><circle cx="424.3" cy="566.9" r="4.6"/><circle cx="436.1" cy="566.9" r="4.6"/><circle cx="436.1" cy="566.9" r="4.6"/><circle cx="443.8" cy="566.9" r="4.6"/><circle cx="468.8" cy="566.9" r="4.6"/><circle cx="468.8" cy="566.9" r="4.6"/><circle cx="383.0" cy="573.8" r="4.6"/><circle cx="454.2" cy="573.8" r="4.6"/><circle cx="468.8" cy="578.3" r="4.6"/><circle cx="344.4" cy="589.8" r="4.6"/><circle cx="344.4" cy="589.8" r="4.6"/><circle cx="357.0" cy="589.8" r="4.6"/><circle cx="363.2" cy="589.8" r="4.6"/><circle cx="436.8" cy="589.8" r="4.6"/><circle cx="468.8" cy="589.8" r="4.6"/><circle cx="477.8" cy="589.8" r="4.6"/><circle cx="383.0" cy="601.2" r="4.6"/><circle cx="395.1" cy="601.2" r="4.6"/><circle cx="436.8" cy="601.2" r="4.6"/><circle cx="344.4" cy="612.6" r="4.6"/><circle cx="344.4" cy="612.6" r="4.6"/><circle cx="344.4" cy="612.6" r="4.6"/><circle cx="344.4" cy="612.6" r="4.6"/><circle cx="357.0" cy="612.6" r="4.6"/><circle cx="477.8" cy="612.6" r="4.6"/><circle cx="436.8" cy="635.5" r="4.6"/><circle cx="344.7" cy="704.0" r="4.6"/><circle cx="485.4" cy="566.9" r="4.6"/><circle cx="485.4" cy="566.9" r="4.6"/><circle cx="500.7" cy="566.9" r="4.6"/><circle cx="508.0" cy="566.9" r="4.6"/><circle cx="511.8" cy="566.9" r="4.6"/><circle cx="511.8" cy="566.9" r="4.6"/><circle cx="515.5" cy="566.9" r="4.6"/><circle cx="530.6" cy="566.9" r="4.6"/><circle cx="530.6" cy="566.9" r="4.6"/><circle cx="545.8" cy="566.9" r="4.6"/><circle cx="545.8" cy="566.9" r="4.6"/><circle cx="557.6" cy="566.9" r="4.6"/><circle cx="557.6" cy="566.9" r="4.6"/><circle cx="557.6" cy="566.9" r="4.6"/><circle cx="570.8" cy="566.9" r="4.6"/><circle cx="586.8" cy="566.9" r="4.6"/><circle cx="628.5" cy="566.9" r="4.6"/><circle cx="628.5" cy="566.9" r="4.6"/><circle cx="484.7" cy="578.3" r="4.6"/><circle cx="542.4" cy="578.3" r="4.6"/><circle cx="557.6" cy="578.3" r="4.6"/><circle cx="571.5" cy="578.3" r="4.6"/><circle cx="571.5" cy="578.3" r="4.6"/><circle cx="511.1" cy="589.8" r="4.6"/><circle cx="528.5" cy="589.8" r="4.6"/><circle cx="545.8" cy="589.8" r="4.6"/><circle cx="590.3" cy="589.8" r="4.6"/><circle cx="595.1" cy="582.9" r="4.6"/><circle cx="494.4" cy="601.2" r="4.6"/><circle cx="494.4" cy="601.2" r="4.6"/><circle cx="522.9" cy="612.6" r="4.6"/><circle cx="534.0" cy="612.6" r="4.6"/><circle cx="542.4" cy="612.6" r="4.6"/><circle cx="557.6" cy="612.6" r="4.6"/><circle cx="557.6" cy="612.6" r="4.6"/><circle cx="570.8" cy="612.6" r="4.6"/><circle cx="588.2" cy="612.6" r="4.6"/><circle cx="588.2" cy="612.6" r="4.6"/><circle cx="595.1" cy="608.0" r="4.6"/><circle cx="627.1" cy="612.6" r="4.6"/><circle cx="494.4" cy="669.8" r="4.6"/><circle cx="510.0" cy="566.9" r="4.6"/><circle cx="516.6" cy="589.8" r="4.6"/><circle cx="570.0" cy="589.8" r="4.6"/><circle cx="574.0" cy="589.8" r="4.6"/><circle cx="646.1" cy="566.9" r="4.6"/><circle cx="666.0" cy="566.9" r="4.6"/><circle cx="666.0" cy="566.9" r="4.6"/><circle cx="647.6" cy="578.3" r="4.6"/><circle cx="647.6" cy="589.8" r="4.6"/><circle cx="647.6" cy="589.8" r="4.6"/><circle cx="652.8" cy="589.8" r="4.6"/><circle cx="711.1" cy="612.6" r="4.6"/></g>
<line x1="157.44" y1="401.96" x2="1071.36" y2="401.96" stroke="#48b5e2" stroke-width="4"/>
<text x="179.6" y="397.8" font-size="29.6" letter-spacing="0.45" fill="#2a3b8c">Basic model</text>
<g stroke="#d6446d" stroke-width="2"><line x1="303.3" y1="401.96" x2="303.3" y2="498.3"/><line x1="344.66" y1="401.96" x2="344.66" y2="589.8"/><line x1="390.8" y1="401.96" x2="390.8" y2="532.6"/><line x1="436.7" y1="401.96" x2="436.7" y2="509.8"/><line x1="436.7" y1="401.96" x2="436.7" y2="429.8"/><line x1="516.6" y1="401.96" x2="516.6" y2="589.8"/><line x1="554.77" y1="401.96" x2="554.77" y2="361.2"/><line x1="563.3" y1="401.96" x2="563.3" y2="384.1"/><line x1="583.96" y1="401.96" x2="583.96" y2="544.0"/><line x1="897.8" y1="401.96" x2="897.8" y2="323.0"/></g>
<g fill="none" stroke="#d6446d" stroke-width="4.0"><circle cx="303.3" cy="498.3" r="6.95"/><circle cx="344.66" cy="589.8" r="6.95"/><circle cx="390.8" cy="532.6" r="6.95"/><circle cx="436.7" cy="509.8" r="6.95"/><circle cx="436.7" cy="429.8" r="6.95"/><circle cx="516.6" cy="589.8" r="6.95"/><circle cx="554.77" cy="361.2" r="6.95"/><circle cx="563.3" cy="384.1" r="6.95"/><circle cx="583.96" cy="544.0" r="6.95"/><circle cx="897.8" cy="323.0" r="6.95"/></g>
<rect x="157.44" y="157.44" width="913.92" height="567.72" fill="none" stroke="#000" stroke-width="2"/>
<g stroke="#000" stroke-width="2"><line x1="160.60" y1="725.16" x2="160.60" y2="744.36"/><line x1="314.04" y1="725.16" x2="314.04" y2="744.36"/><line x1="467.48" y1="725.16" x2="467.48" y2="744.36"/><line x1="620.92" y1="725.16" x2="620.92" y2="744.36"/><line x1="774.36" y1="725.16" x2="774.36" y2="744.36"/><line x1="927.80" y1="725.16" x2="927.80" y2="744.36"/><line x1="157.44" y1="612.71" x2="138.24" y2="612.71"/><line x1="157.44" y1="498.44" x2="138.24" y2="498.44"/><line x1="157.44" y1="384.16" x2="138.24" y2="384.16"/><line x1="157.44" y1="269.89" x2="138.24" y2="269.89"/></g>
<g font-size="32" text-anchor="middle" fill="#000"><text x="160.60" y="795">64</text><text x="314.04" y="795">66</text><text x="467.48" y="795">68</text><text x="620.92" y="795">70</text><text x="774.36" y="795">72</text><text x="927.80" y="795">74</text><text transform="translate(110.8,612.71) rotate(-90)">60</text><text transform="translate(110.8,498.44) rotate(-90)">65</text><text transform="translate(110.8,384.16) rotate(-90)">70</text><text transform="translate(110.8,269.89) rotate(-90)">75</text></g>
<text x="614.4" y="872.2" font-size="32" text-anchor="middle">Height of midparent</text>
<text transform="translate(35.1,441.3) rotate(-90)" font-size="32" text-anchor="middle">Height of child</text>
</svg>
</body></html>
